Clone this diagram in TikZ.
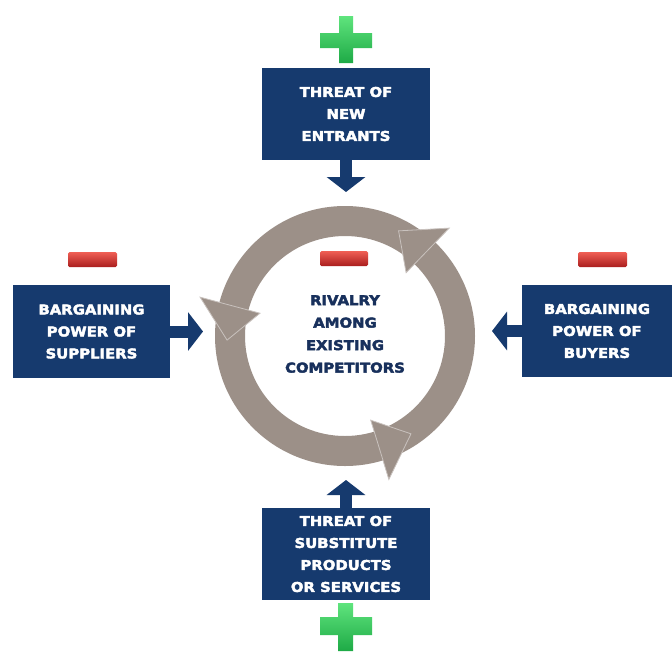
\documentclass[tikz,border=0pt]{standalone}
\usepackage{fontspec}
\newfontfamily\boxfont[FakeStretch=1.1, FakeBold=3]{DejaVu Sans Bold}
\usetikzlibrary{arrows.meta}
\definecolor{navy}{RGB}{22,58,110}
\definecolor{taupe}{RGB}{156,144,136}
\definecolor{textnavy}{RGB}{24,48,92}
\definecolor{plusLight}{RGB}{95,228,125}
\definecolor{plusDark}{RGB}{30,170,70}
\definecolor{minusLight}{RGB}{240,95,85}
\definecolor{minusDark}{RGB}{170,30,30}
\begin{document}
\begin{tikzpicture}[x=1pt,y=-1pt,
  forcebox/.style={fill=navy, text=white, align=center, inner sep=0pt,
    minimum height=92pt, font=\boxfont\fontsize{13.5}{22}\selectfont},
  centertext/.style={text=textnavy, align=center, inner sep=0pt,
    font=\boxfont\fontsize{13.5}{22.5}\selectfont},
  blockarrow/.style={draw=navy, line width=12pt,
    -{Triangle[length=15pt 0 1, width=38pt 0 1]}},
  ringhead/.style={fill=taupe, draw=taupe!55!white, line width=0.8pt, line join=miter},
  plusshape/.style={top color=plusLight, bottom color=plusDark},
  minusshape/.style={top color=minusLight, bottom color=minusDark, rounded corners=1.5pt}]
\useasboundingbox (0,0) rectangle (672,651);
\fill[white] (0,0) rectangle (672,651);

% central ring
\coordinate (ringc) at (345,336);
\fill[taupe, even odd rule] (ringc) circle[radius=130] (ringc) circle[radius=100];
\begin{scope}[shift={(345,336)}]
  \foreach \b in {46,165,287} {
    \filldraw[ringhead] (-\b:88) -- (-\b:150) -- ({-(\b+17)}:118) -- cycle;
  }
\end{scope}

% boxes
\node[forcebox, minimum width=168pt] (entrants) at (346,114)
  {THREAT OF\\NEW\\ENTRANTS};
\node[forcebox, minimum width=157pt, minimum height=93pt] (suppliers) at (91.5,331.5)
  {BARGAINING\\POWER OF\\SUPPLIERS};
\node[forcebox, minimum width=150pt] (buyers) at (597,331)
  {BARGAINING\\POWER OF\\BUYERS};
\node[forcebox, minimum width=168pt] (substitutes) at (346,554)
  {THREAT OF\\SUBSTITUTE\\PRODUCTS\\OR SERVICES};
\node[centertext] (rivalry) at (345,334)
  {RIVALRY\\AMONG\\EXISTING\\COMPETITORS};

% arrow ends
\coordinate (topend) at (346,192);
\coordinate (leftend) at (203,331.5);
\coordinate (rightend) at (492,331);
\coordinate (bottomend) at (346,480);

\draw[blockarrow] (entrants.south) -- (topend);
\draw[blockarrow] (suppliers.east) -- (leftend);
\draw[blockarrow] (buyers.west) -- (rightend);
\draw[blockarrow] (substitutes.north) -- (bottomend);

% minus signs
\shade[minusshape] (68,252) rectangle (117,267);
\shade[minusshape] (578,252) rectangle (627,267);
\shade[minusshape] (320,251) rectangle (368,266);

% plus signs
\shade[plusshape] (339,16) -- (353,16) -- (353,33) -- (372,33) -- (372,48)
  -- (353,48) -- (353,63) -- (339,63) -- (339,48) -- (320,48) -- (320,33)
  -- (339,33) -- cycle;
\shade[plusshape] (338,603) -- (353,603) -- (353,617) -- (372,617) -- (372,635)
  -- (353,635) -- (353,651) -- (338,651) -- (338,635) -- (320,635) -- (320,617)
  -- (338,617) -- cycle;
\end{tikzpicture}
\end{document}
